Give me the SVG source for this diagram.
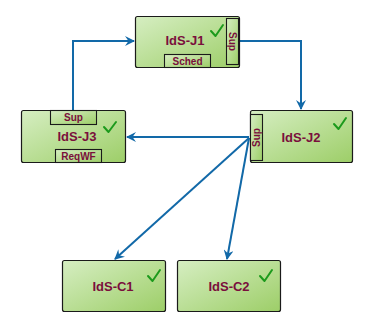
<svg xmlns="http://www.w3.org/2000/svg" width="376" height="333" viewBox="0 0 376 333">
<defs>
<linearGradient id="g" x1="0" y1="0" x2="1" y2="1">
<stop offset="0" stop-color="#d6eec2"/>
<stop offset="1" stop-color="#9dce68"/>
</linearGradient>
<marker id="ah" viewBox="0 0 10 10" refX="9" refY="5" markerWidth="5" markerHeight="5" orient="auto" markerUnits="strokeWidth">
<path d="M0,0 L10,5 L0,10 L3.5,5 Z" fill="#1269a8"/>
</marker>
<style>
.box{fill:url(#g);stroke:#1a1a1a;stroke-width:1.2}
.tab{fill:url(#g);stroke:#1a1a1a;stroke-width:1.1}
.lbl{font-family:"Liberation Sans",Arial,sans-serif;font-weight:bold;font-size:13px;fill:#7a0f3c;text-anchor:middle}
.tl{font-family:"Liberation Sans",Arial,sans-serif;font-weight:bold;font-size:10px;fill:#7a0f3c;text-anchor:middle}
.ck{fill:none;stroke:#1c9a1c;stroke-width:2;stroke-linecap:round;stroke-linejoin:round}
.cn{fill:none;stroke:#1269a8;stroke-width:2;marker-end:url(#ah)}
</style>
</defs>
<g id="connectors">
<path class="cn" d="M73,110 V41 H134"/>
<path class="cn" d="M240,41 H301 V109"/>
<path class="cn" d="M249,137 H127"/>
<path class="cn" d="M249,138 L115,259"/>
<path class="cn" d="M249,138 L227,259"/>
</g>
<g id="J1">
<rect class="box" x="135.5" y="16.5" width="104" height="51" rx="2"/>
<rect class="tab" x="226.5" y="18.5" width="12" height="46"/>
<rect class="tab" x="164.5" y="54.5" width="46" height="13"/>
<text class="lbl" x="185" y="45">IdS-J1</text>
<text class="tl" transform="translate(229,41.5) rotate(90)">Sup</text>
<text class="tl" x="187.5" y="64.5">Sched</text>
<path class="ck" d="M211,31 L215.5,36 L223,25"/>
</g>
<g id="J2">
<rect class="box" x="250.5" y="110.5" width="102" height="52" rx="2"/>
<rect class="tab" x="250.5" y="114.5" width="12" height="46"/>
<text class="lbl" x="301" y="142">IdS-J2</text>
<text class="tl" transform="translate(260,137.5) rotate(-90)">Sup</text>
<path class="ck" d="M334,124 L338.5,129 L346,118"/>
</g>
<g id="J3">
<rect class="box" x="21.5" y="110.5" width="104" height="52" rx="2"/>
<rect class="tab" x="50.5" y="110.5" width="46" height="14"/>
<rect class="tab" x="55.5" y="149.5" width="46" height="13"/>
<text class="lbl" x="77" y="141">IdS-J3</text>
<text class="tl" x="73.5" y="121">Sup</text>
<text class="tl" x="78.5" y="159.5">ReqWF</text>
<path class="ck" d="M104,127 L108.5,132 L116,122"/>
</g>
<g id="C1">
<rect class="box" x="62.5" y="260.5" width="103" height="51" rx="2"/>
<text class="lbl" x="113" y="291">IdS-C1</text>
<path class="ck" d="M148,276 L152.5,281 L160,270"/>
</g>
<g id="C2">
<rect class="box" x="177.5" y="260.5" width="103" height="51" rx="2"/>
<text class="lbl" x="229" y="291">IdS-C2</text>
<path class="ck" d="M260,276 L264.5,281 L272,270"/>
</g>
</svg>
